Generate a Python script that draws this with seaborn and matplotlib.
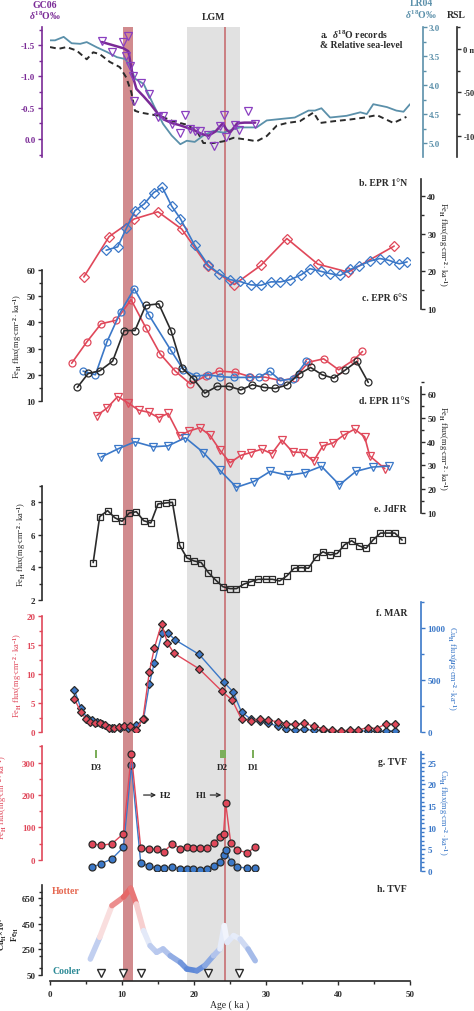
import numpy as np
import matplotlib
matplotlib.use("Agg")
import matplotlib.pyplot as plt
import seaborn as sns
from matplotlib.collections import LineCollection
from matplotlib.colors import LinearSegmentedColormap
from matplotlib.ticker import MultipleLocator

# ─────────────────────────────────────────────
# Data
# ─────────────────────────────────────────────
gc06_age = [7.2, 8.6, 10.2, 10.9, 10.6, 11.1, 11.5, 11.7, 12.6, 13.7, 15.0, 15.7, 16.9, 18.1, 18.8,
            19.5, 20.1, 20.8, 21.9, 22.8, 23.6, 24.1, 24.5, 25.7, 26.2, 27.5, 28.5]
gc06_val = [-1.56, -1.39, -1.55, -1.65, -1.33, -1.17, -1.01, -0.61, -0.90, -0.72, -0.35, -0.37, -0.24,
            -0.10, -0.38, -0.16, -0.12, -0.12, -0.06, 0.11, -0.21, -0.38, -0.03, -0.22, -0.15, -0.44, -0.24]
gc06s_age = [7.2, 10.2, 10.9, 11.5, 12, 13, 14, 15, 16, 17, 18, 19, 20, 21, 22, 23, 24, 24.5, 25, 26, 27, 28.5]
gc06s_val = [-1.55, -1.45, -1.40, -1.0, -0.8, -0.68, -0.55, -0.40, -0.30, -0.25, -0.22, -0.18, -0.14,
             -0.08, -0.05, -0.12, -0.25, -0.15, -0.10, -0.25, -0.26, -0.26]

lr04_age = [0, 0.7, 1.9, 3.0, 4.2, 5.1, 6.5, 7.9, 9.3, 10.4, 11.1, 11.8, 13.0, 14.4, 15.7, 16.9, 18.1,
            19.0, 20.1, 21.3, 22.7, 24.1, 25.5, 26.4, 28.7, 30.1, 32.4, 34.0, 35.9, 36.8, 37.7, 38.9,
            41.2, 43.1, 44.0, 44.9, 46.8, 48.1, 49.1, 50.0]
lr04_val = [3.23, 3.23, 3.17, 3.28, 3.29, 3.26, 3.35, 3.43, 3.52, 3.55, 3.66, 3.89, 3.98, 4.35, 4.67,
            4.87, 5.02, 4.96, 4.98, 4.87, 4.79, 4.82, 4.76, 4.73, 4.73, 4.61, 4.58, 4.56, 4.44, 4.44,
            4.40, 4.56, 4.53, 4.47, 4.50, 4.33, 4.38, 4.44, 4.46, 4.33]

rsl_age = [0, 1.2, 2.3, 3.7, 5.1, 6.0, 6.9, 8.3, 9.7, 10.6, 11.3, 11.8, 12.5, 13.9, 15.3, 17.1, 19.0,
           20.4, 21.3, 22.7, 24.1, 25.5, 27.3, 28.7, 30.1, 31.5, 32.9, 34.7, 36.6, 37.5, 39.4, 41.7,
           43.5, 45.4, 47.7, 49.5]
rsl_val = [2, 0, 2, -2, -12, -4, -6, -15, -21, -33, -50, -71, -73, -75, -77, -83, -87, -94, -108, -108,
           -106, -102, -104, -106, -100, -88, -85, -83, -73, -85, -83, -81, -79, -76, -85, -78]

b_red_age = [4.7, 8.2, 11.7, 15.0, 18.3, 21.9, 25.6, 29.3, 32.9, 37.2, 41.4, 47.8]
b_red_val = [18.5, 29.2, 33.9, 35.8, 31.2, 21.4, 16.5, 21.6, 28.7, 21.9, 19.8, 26.7]
b_blue_age = [7.8, 9.4, 10.6, 11.8, 13.1, 14.4, 15.6, 16.9, 18.1, 20.1, 22.0, 23.5, 25.0, 26.4, 27.9,
              29.3, 30.7, 32.0, 33.4, 34.9, 36.1, 37.6, 38.9, 40.3, 41.7, 42.9, 44.4, 45.8, 47.1, 48.5, 49.6]
b_blue_val = [25.6, 26.5, 31.4, 36.1, 37.9, 40.9, 42.3, 37.3, 34.0, 26.9, 21.6, 19.4, 17.8, 17.3, 16.4,
              16.3, 17.2, 17.2, 17.8, 19.1, 20.7, 20.0, 19.4, 18.9, 20.5, 21.4, 22.7, 23.4, 22.9, 22.0, 22.5]

c_red_age = [3.0, 5.1, 7.1, 9.2, 11.25, 13.3, 15.3, 17.4, 19.5, 21.6, 23.5, 25.7, 27.8, 29.9, 32.0,
             34.0, 35.9, 38.0, 40.1, 42.2, 43.4]
c_red_val = [24.4, 32.5, 39.5, 40.8, 48.7, 38.0, 28.0, 21.4, 16.5, 19.5, 21.4, 21.0, 19.3, 19.1, 17.8,
             18.7, 24.8, 26.1, 21.9, 25.7, 28.9]
c_blue_age = [4.6, 6.3, 7.9, 9.8, 11.7, 13.7, 16.8, 18.5, 20.3, 22.0, 23.6, 25.5, 27.7, 29.0, 30.5,
              32.0, 33.8, 35.6]
c_blue_val = [21.4, 20.0, 32.5, 44.0, 52.9, 43.0, 29.3, 22.0, 19.5, 20.0, 19.3, 19.0, 19.0, 19.0, 21.4,
              17.8, 18.5, 25.2]
c_black_age = [3.8, 5.3, 6.9, 8.7, 10.3, 11.8, 13.3, 15.1, 16.8, 18.4, 19.9, 21.5, 23.2, 24.9, 26.5,
               28.1, 29.7, 31.3, 32.9, 34.6, 36.2, 37.8, 39.4, 41.0, 42.6, 44.2]
c_black_val = [15.2, 20.5, 21.5, 25.2, 36.9, 36.9, 46.5, 47.1, 36.9, 22.5, 18.5, 13.0, 15.6, 15.6, 14.2,
               16.2, 15.2, 14.8, 16.1, 20.3, 22.8, 20.0, 18.7, 21.8, 25.1, 17.1]

d_red_age = [6.5, 7.9, 9.4, 10.9, 12.3, 13.7, 15.1, 16.4, 18.0, 19.3, 20.8, 22.2, 23.6, 25.0, 26.5,
             27.9, 29.4, 30.8, 32.2, 33.7, 35.1, 36.6, 37.9, 39.3, 40.8, 42.3, 43.7, 44.4, 46.5]
d_red_val = [50.9, 54.0, 58.9, 56.1, 53.2, 52.3, 50.0, 51.8, 42.4, 44.4, 45.8, 42.7, 36.4, 31.1, 34.2,
             35.4, 36.8, 34.9, 40.6, 35.6, 35.4, 31.8, 38.2, 39.4, 42.7, 45.2, 42.0, 34.0, 28.6]
d_blue_age = [7.1, 9.5, 11.8, 14.3, 16.4, 18.8, 21.3, 23.6, 25.9, 28.3, 30.6, 33.1, 35.4, 37.7, 40.2,
              42.5, 44.8, 47.1]
d_blue_val = [33.5, 37.0, 39.9, 37.8, 38.2, 41.6, 35.4, 27.9, 20.8, 23.2, 27.5, 25.8, 26.9, 29.6, 21.8,
              27.5, 29.3, 29.7]

e_age = [6.0, 6.9, 8.0, 9.0, 10.0, 11.0, 12.0, 13.0, 14.0, 15.0, 16.1, 17.0, 18.0, 19.0, 20.0, 21.0,
         22.0, 23.0, 24.0, 25.0, 25.9, 26.9, 27.9, 28.9, 30.0, 30.9, 31.9, 32.9, 33.9, 34.9, 35.9, 36.9,
         37.9, 38.9, 39.9, 40.9, 41.9, 42.9, 43.9, 44.9, 45.9, 46.9, 47.9, 48.9]
e_val = [4.30, 7.12, 7.49, 7.05, 6.83, 7.34, 7.42, 6.87, 6.73, 7.90, 7.96, 8.00, 5.37, 4.59, 4.40, 4.30,
         3.68, 3.23, 2.82, 2.70, 2.70, 2.97, 3.13, 3.27, 3.27, 3.27, 3.17, 3.48, 3.95, 3.99, 3.95, 4.61,
         4.96, 4.77, 4.86, 5.39, 5.64, 5.33, 5.18, 5.70, 6.11, 6.11, 6.11, 5.68]

f_red_age = [3.4, 4.3, 5.0, 5.6, 6.2, 6.9, 7.6, 8.2, 8.9, 9.6, 10.3, 11.1, 11.9, 12.9, 13.8, 14.5, 15.5,
             16.3, 17.2, 20.7, 23.9, 25.3, 26.6, 27.9, 29.1, 30.3, 31.6, 32.8, 34.0, 35.3, 36.6, 37.9,
             39.1, 40.4, 41.6, 42.8, 44.1, 45.4, 46.7, 47.9]
f_red_val = [5.7, 3.4, 2.3, 1.7, 1.5, 1.5, 1.2, 0.75, 0.75, 0.87, 1.0, 1.0, 0.35, 2.2, 10.4, 14.5, 18.7,
             15.4, 13.6, 10.9, 7.0, 5.5, 2.2, 1.9, 2.2, 2.0, 1.8, 1.45, 1.3, 1.5, 1.0, 0.6, 0.3, 0.2,
             0.3, 0.35, 0.75, 0.6, 1.45, 1.3]
f_blue_age = [3.4, 4.3, 5.1, 5.8, 6.5, 7.2, 8.6, 9.7, 10.9, 12.0, 13.0, 13.8, 14.5, 15.6, 16.4, 17.4,
              20.7, 24.1, 25.4, 26.6, 27.9, 29.1, 30.3, 31.6, 32.8, 34.0, 35.3, 36.6, 37.9, 39.1, 40.4,
              41.6, 42.8, 44.1, 45.4, 46.7, 47.9]
f_blue_val = [403, 226, 139, 116, 97, 81, 42, 42, 42, 65, 129, 461, 668, 956, 950, 885, 747, 481, 389,
              192, 123, 106, 84, 58, 32, 16, 26, 16, 16, 10, 10, 10, 10, 10, 10, 10, 10]

g_age = [5.9, 7.1, 8.6, 10.2, 11.3, 12.6, 13.8, 14.8, 15.8, 17.0, 18.1, 19.0, 19.8, 20.8, 21.8, 22.8,
         23.6, 24.1, 24.4, 25.1, 26.0, 27.4, 28.5]
g_red_val = [50, 45, 50, 81, 327, 37, 33, 33, 25, 50, 35, 40, 37, 37, 37, 53, 71, 81, 175, 53, 30, 22.5, 40]
g_blue_val = [0.9, 1.7, 2.8, 5.5, 24.4, 1.9, 1.1, 0.7, 0.7, 0.9, 0.5, 0.4, 0.4, 0.3, 0.5, 1.15, 2.1, 3.8,
              4.9, 2.1, 0.9, 0.7, 0.7]

h_age = [5.6, 6.9, 8.6, 10.2, 11.2, 12.0, 13.0, 13.9, 14.8, 15.7, 16.7, 18.1, 19.0, 20.4, 21.5, 22.7,
         23.6, 24.2, 24.6, 25.5, 26.4, 27.5, 28.5]
h_val = [173, 343, 592, 658, 728, 605, 396, 278, 226, 252, 199, 147, 95, 81, 121, 199, 252, 435, 304,
         357, 330, 252, 160]
h_tri_age = [7.1, 10.2, 12.6, 21.9, 26.2]

d_events = ["D3", "D2", "D1"]
d_event_age = [6.4, 24.0, 28.2]

# ─────────────────────────────────────────────
# Style
# ─────────────────────────────────────────────
sns.set_style("ticks")
plt.rcParams["font.family"] = ["Liberation Serif", "DejaVu Serif"]
plt.rcParams["font.weight"] = "bold"
plt.rcParams["mathtext.fontset"] = "custom"
plt.rcParams["mathtext.rm"] = "Liberation Serif:bold"
plt.rcParams["mathtext.it"] = "Liberation Serif:italic:bold"
plt.rcParams["mathtext.bf"] = "Liberation Serif:bold"

RED = "#e0485a"
BLUE = "#3b78c8"
BLACK = "#2b2b2b"
PURPLE = "#7a2a96"
TEAL = "#5b90aa"
FS = 6.5
LFS = 6

W_PX, H_PX = 474, 1012
X0, X1 = 50, 410
fig = plt.figure(figsize=(W_PX / 100, H_PX / 100), dpi=100)


def panel(top, bot, ylim, zorder=2):
    ax = fig.add_axes([X0 / W_PX, 1 - bot / H_PX, (X1 - X0) / W_PX, (bot - top) / H_PX])
    ax.set_xlim(0, 50)
    ax.set_ylim(*ylim)
    ax.patch.set_visible(False)
    ax.set_zorder(zorder)
    for s in ax.spines.values():
        s.set_visible(False)
    ax.set_xticks([])
    ax.set_yticks([])
    ax.tick_params(axis="y", labelsize=FS, width=1, length=3, colors=BLACK)
    return ax


def yaxis(ax, side, major, minor, color=BLACK, bounds=None, outward=6):
    sp = ax.spines[side]
    sp.set_visible(True)
    sp.set_position(("outward", outward))
    sp.set_color(color)
    sp.set_linewidth(1.2)
    if bounds is not None:
        sp.set_bounds(*bounds)
    if side == "right":
        ax.yaxis.tick_right()
        ax.yaxis.set_label_position("right")
    ax.yaxis.set_major_locator(MultipleLocator(major))
    if minor:
        ax.yaxis.set_minor_locator(MultipleLocator(minor))
    ax.tick_params(axis="y", which="both", colors=color, labelcolor=color, width=1, pad=1.5)
    ax.tick_params(axis="y", which="minor", length=2)


def line(ax, x, y, color, marker, mfc="none", ms=5, lw=1.2, ls="-"):
    sns.lineplot(x=x, y=y, ax=ax, color=color, marker=marker, markersize=ms, markerfacecolor=mfc,
                 markeredgecolor=BLACK if mfc != "none" else color, markeredgewidth=0.9,
                 linewidth=lw, linestyle=ls, sort=False, estimator=None, legend=False)


FE_LABEL = r"Fe$_{\rm H}$ flux(mg$\cdot$cm$^{-2}\cdot$ka$^{-1}$)"

# background bands
bg = panel(28, 982, (0, 1), zorder=0)
bg.axvspan(19.0, 26.4, color="#e1e1e1", lw=0)
bg.axvspan(10.2, 11.5, color="#c9777a", alpha=0.85, lw=0)
bg.axvspan(24.15, 24.45, color="#c9777a", alpha=0.9, lw=0)

# a. d18O / RSL
a1 = panel(28, 158, (0.29, -1.79), zorder=3)
yaxis(a1, "left", 0.5, 0.25, color=PURPLE)
a1.set_yticks([-1.5, -1.0, -0.5, 0.0], ["-1.5", "-1.0", "-0.5", "0.0"])
line(a1, gc06s_age, gc06s_val, PURPLE, None, lw=1.8)
line(a1, gc06_age, gc06_val, "#8a3fc0", "v", ls="", ms=6)
a2 = panel(28, 158, (5.24, 3.0))
yaxis(a2, "right", 0.5, 0.25, color=TEAL, outward=9)
a2.set_yticks([3.0, 3.5, 4.0, 4.5, 5.0], ["3.0", "3.5", "4.0", "4.5", "5.0"])
line(a2, lr04_age, lr04_val, TEAL, None, lw=1.3)
a3 = panel(28, 158, (-124, 25))
yaxis(a3, "right", 50, 25, color=BLACK, outward=34)
a3.set_yticks([0, -50, -100], ["0 m", "-50", "-100"])
a3.tick_params(axis="y", labelsize=6)
line(a3, rsl_age, rsl_val, BLACK, None, lw=1.4, ls=(0, (3, 2)))

# b. EPR 1N
b = panel(180, 310, (10, 44.5))
yaxis(b, "right", 10, 5, outward=8, bounds=(10, 44.5))
line(b, b_red_age, b_red_val, RED, "D")
line(b, b_blue_age, b_blue_val, BLUE, "D")
b.set_ylabel(FE_LABEL, fontsize=LFS, rotation=-90, labelpad=9)

# c. EPR 6S
c = panel(271, 402, (10, 60), zorder=4)
yaxis(c, "left", 10, 5)
line(c, c_red_age, c_red_val, RED, "o")
line(c, c_blue_age, c_blue_val, BLUE, "o")
line(c, c_black_age, c_black_val, BLACK, "o")
c.set_ylabel(FE_LABEL, fontsize=LFS, labelpad=2)

# d. EPR 11S
d = panel(383, 514, (10, 65))
yaxis(d, "right", 10, 5, outward=8, bounds=(10, 63))
line(d, d_red_age, d_red_val, RED, "v", ms=6)
line(d, d_blue_age, d_blue_val, BLUE, "v", ms=6)
d.set_ylabel(FE_LABEL, fontsize=LFS, rotation=-90, labelpad=9)

# e. JdFR
e = panel(487, 601, (2, 9))
yaxis(e, "left", 2, 1)
line(e, e_age, e_val, BLACK, "s", ms=5)
e.set_ylabel(FE_LABEL, fontsize=LFS, labelpad=2)

# f. MAR
f1 = panel(617, 733, (0, 20), zorder=3)
yaxis(f1, "left", 5, 2.5, color=RED)
f1.set_ylabel(FE_LABEL, fontsize=LFS, color=RED, labelpad=2)
f2 = panel(603, 733, (0, 1250))
yaxis(f2, "right", 500, 250, color=BLUE, outward=8)
f2.set_ylabel(r"Cu$_{\rm H}$ flux($\mu$g$\cdot$cm$^{-2}\cdot$ka$^{-1}$)", fontsize=LFS, color=BLUE,
              rotation=-90, labelpad=9)
line(f2, f_blue_age, f_blue_val, BLUE, "D", mfc=BLUE, ms=4.5, lw=1)
line(f1, f_red_age, f_red_val, RED, "D", mfc=RED, ms=4.5, lw=1)

# g. TVF
g1 = panel(747, 872, (-34, 351), zorder=3)
yaxis(g1, "left", 100, 50, color=RED, bounds=(0, 351))
g1.set_ylabel(FE_LABEL, fontsize=LFS, color=RED, labelpad=2)
g1.yaxis.set_label_coords(-0.115, 0.6)
g2 = panel(753, 872, (0, 27.5))
yaxis(g2, "right", 5, 1, color=BLUE, outward=8)
g2.set_ylabel(r"Cu$_{\rm H}$ flux(mg$\cdot$cm$^{-2}\cdot$ka$^{-1}$)", fontsize=LFS, color=BLUE,
              rotation=-90, labelpad=9)
line(g2, g_age, g_blue_val, BLUE, "o", mfc=BLUE, ms=5, lw=1)
line(g1, g_age, g_red_val, RED, "o", mfc=RED, ms=5, lw=1)
for name, age in zip(d_events, d_event_age):
    w = 0.9 if name == "D2" else 0.35
    g1.add_patch(plt.Rectangle((age - w / 2, 313), w, 25, color="#7cae5a", lw=0))
    g1.text(age, 300, name, ha="center", va="top", fontsize=FS)
g1.annotate("H2", xy=(13.0, 200), xytext=(15.2, 200), fontsize=FS, va="center", ha="left",
            arrowprops=dict(arrowstyle="<-", lw=0.9, color=BLACK, shrinkA=0, shrinkB=0))
g1.annotate("H1", xy=(23.8, 200), xytext=(21.8, 200), fontsize=FS, va="center", ha="right",
            arrowprops=dict(arrowstyle="->", lw=0.9, color=BLACK, shrinkA=0, shrinkB=0))

# h. TVF temperature proxy
h = panel(886, 982, (0.6, 754), zorder=3)
yaxis(h, "left", 200, 100, bounds=(50, 754))
h.set_yticks([50, 250, 450, 650])
h.spines["bottom"].set_visible(True)
h.spines["bottom"].set_linewidth(1.2)
h.spines["bottom"].set_position(("outward", 0))
h.set_xticks(range(0, 51, 10))
h.xaxis.set_minor_locator(MultipleLocator(5))
h.tick_params(axis="x", which="both", labelsize=FS, width=1, length=3, colors=BLACK, direction="out")
h.tick_params(axis="x", which="minor", length=2)
h.set_xlabel("Age ( ka )", fontsize=7, labelpad=1)
h.text(-0.13, 0.5, r"Cu$_{\rm H}$×10$^4$", transform=h.transAxes, rotation=90, fontsize=LFS,
       ha="center", va="center")
h.text(-0.095, 0.5, r"Fe$_{\rm H}$", transform=h.transAxes, rotation=90, fontsize=LFS,
       ha="center", va="center")
cmap = LinearSegmentedColormap.from_list("tv", ["#5b86d6", "#b9c9ee", "#ffffff", "#f2b3b3", "#e35a5a"])
pts = np.column_stack([h_age, h_val])
segs = np.stack([pts[:-1], pts[1:]], axis=1)
lc = LineCollection(segs, cmap=cmap, linewidth=4, capstyle="round", joinstyle="round")
lc.set_array((np.array(h_val[:-1]) + np.array(h_val[1:])) / 2)
lc.set_clim(80, 720)
h.add_collection(lc)
sns.lineplot(x=h_tri_age, y=[62] * len(h_tri_age), ax=h, marker="v", markersize=6, linestyle="",
             markerfacecolor="white", markeredgecolor=BLACK, markeredgewidth=1, legend=False)
h.text(0.3, 712, "Hotter", color="#e5664f", fontsize=7, va="center")
h.text(0.3, 85, "Cooler", color="#2c8a96", fontsize=7, va="center")

# panel labels / header text
def label(y_px, s, x_px=407, ha="right"):
    fig.text(x_px / W_PX, 1 - y_px / H_PX, s, fontsize=7, ha=ha, va="center", color=BLACK)

label(35, r"a.  $\delta^{18}$O records", x_px=320, ha="left")
label(46, "& Relative sea-level", x_px=320, ha="left")
label(184, "b. EPR 1°N")
label(299, "c. EPR 6°S")
label(402, "d. EPR 11°S", x_px=410)
label(510, "e. JdFR")
label(614, "f. MAR")
label(763, "g. TVF")
label(890, "h. TVF")
label(18, "LGM", x_px=213, ha="center")
fig.text(45 / W_PX, 1 - 5 / H_PX, "GC06", color=PURPLE, fontsize=7, ha="center", va="center")
fig.text(45 / W_PX, 1 - 16 / H_PX, r"$\delta^{18}$O‰", color=PURPLE, fontsize=7, ha="center", va="center")
fig.text(421 / W_PX, 1 - 4 / H_PX, "LR04", color=TEAL, fontsize=7, ha="center", va="center")
fig.text(421 / W_PX, 1 - 15 / H_PX, r"$\delta^{18}$O‰", color=TEAL, fontsize=7, ha="center", va="center")
fig.text(456 / W_PX, 1 - 16 / H_PX, "RSL", color=BLACK, fontsize=7, ha="center", va="center")

fig.savefig("out.png", dpi=100)
